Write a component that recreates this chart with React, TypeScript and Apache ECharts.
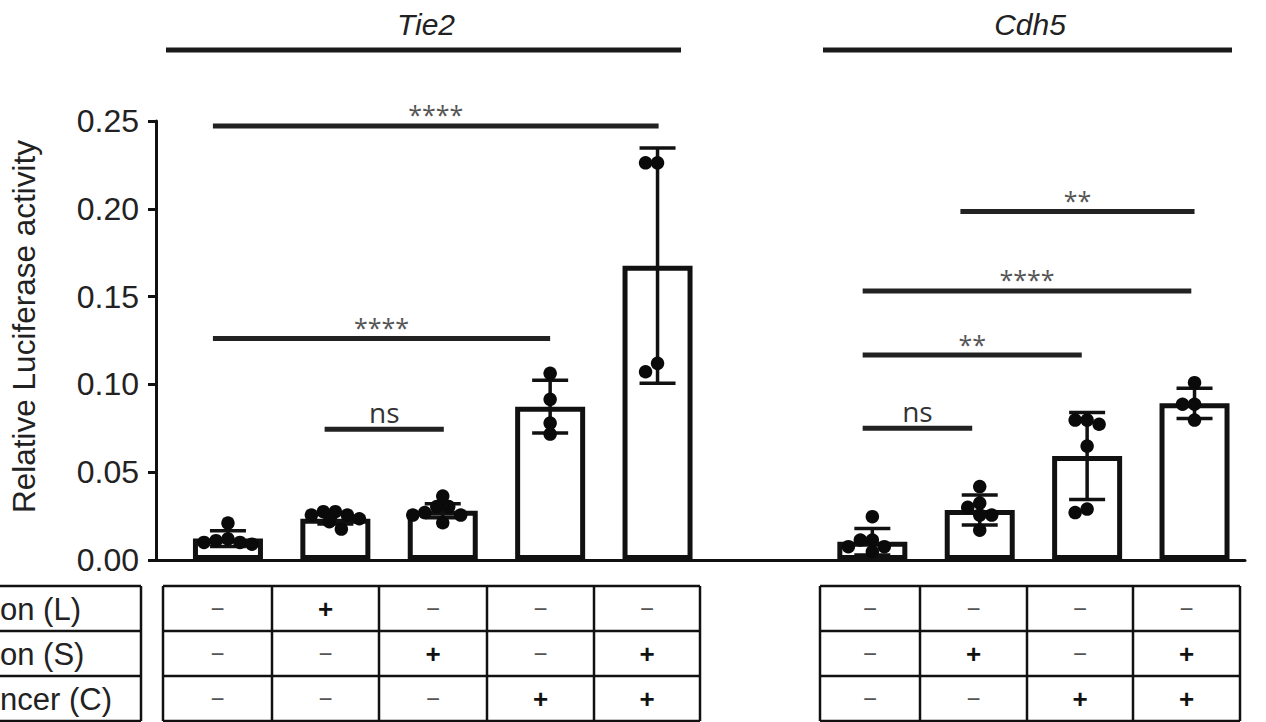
import React, { useEffect, useRef } from "react";
import * as echarts from "echarts";

// ---------- data ----------
const yName = "Relative Luciferase activity";
const genes = ["Tie2", "Cdh5"];
const tie2Slots = [1, 2, 3, 4, 5];
const cdh5Slots = [7, 8, 9, 10];

const tie2Means = [0.0122, 0.0235, 0.028, 0.0873, 0.1676];
const tie2Sd = [0.0045, 0.003, 0.004, 0.015, 0.067];
const cdh5Means = [0.0104, 0.0285, 0.0592, 0.0892];
const cdh5Sd = [0.0076, 0.0085, 0.0248, 0.0086];

const tie2Dots = [
  [0.021, 0.012, 0.011, 0.01, 0.01, 0.009],
  [0.0275, 0.0275, 0.0256, 0.0256, 0.0235, 0.0218, 0.0176],
  [0.0364, 0.0304, 0.0304, 0.027, 0.0256, 0.0256, 0.0212],
  [0.1063, 0.0915, 0.078, 0.0717],
  [0.2262, 0.2262, 0.112, 0.1072],
];
const cdh5Dots = [
  [0.0247, 0.0114, 0.0114, 0.0076, 0.0076, 0.0047],
  [0.0418, 0.0324, 0.03, 0.0256, 0.0256, 0.017],
  [0.0797, 0.0797, 0.0773, 0.0649, 0.029, 0.027],
  [0.101, 0.0887, 0.0887, 0.0797],
];

// significance brackets: [from slot, to slot, height]
const sigLines = [
  [0.86, 5.01, 0.2472],
  [0.86, 4.0, 0.1262],
  [1.9, 3.01, 0.0744],
  [7.82, 10.0, 0.1984],
  [6.91, 9.97, 0.1532],
  [6.91, 8.95, 0.1167],
  [6.91, 7.93, 0.075],
];
const sigLabels = ["****", "****", "ns", "**", "****", "**", "ns"];

const rowLabels = ["on (L)", "on (S)", "ncer (C)"];
const tie2Table = [
  ["−", "+", "−", "−", "−"],
  ["−", "−", "+", "−", "+"],
  ["−", "−", "−", "+", "+"],
];
const cdh5Table = [
  ["−", "−", "−", "−"],
  ["−", "+", "−", "+"],
  ["−", "−", "+", "+"],
];

// ---------- layout ----------
const W = 1266;
const H = 722;
const GL = 155, GR = 21, GT = 121, GB = 162;
const X_MIN = 0.33, X_MAX = 10.47;
const Y_MAX = 0.25;
const XPX = (W - GL - GR) / (X_MAX - X_MIN);
const YPX = (H - GT - GB) / Y_MAX;
const FONT = "Liberation Sans";

function swarm(values: number[], center: number) {
  const placed: { dx: number; dy: number }[] = [];
  const out: number[][] = [];
  const step = 6;
  const minD = 11;
  values.forEach((v) => {
    const py = v * YPX;
    let chosen = 0;
    for (let k = 0; k < 60; k++) {
      const off = k === 0 ? 0 : (k % 2 === 1 ? -1 : 1) * Math.ceil(k / 2) * step;
      if (placed.every((p) => Math.hypot(p.dx - off, p.dy - py) >= minD)) {
        chosen = off;
        break;
      }
    }
    placed.push({ dx: chosen, dy: py });
    out.push([center + chosen / XPX, v]);
  });
  return out;
}

function buildTable(left: number, cols: number[], rows: string[][]) {
  const ys = [586, 631, 676, 721];
  const els: any[] = [];
  const right = cols[cols.length - 1];
  ys.forEach((y) =>
    els.push({ type: "line", shape: { x1: left, y1: y, x2: right, y2: y }, style: { stroke: "#111", lineWidth: 2.5 } })
  );
  [left, ...cols].forEach((x) =>
    els.push({ type: "line", shape: { x1: x, y1: ys[0], x2: x, y2: ys[3] }, style: { stroke: "#111", lineWidth: 2.5 } })
  );
  const bounds = [left, ...cols];
  rows.forEach((row, r) => {
    row.forEach((s, c) => {
      els.push({
        type: "text",
        x: (bounds[c] + bounds[c + 1]) / 2,
        y: (ys[r] + ys[r + 1]) / 2,
        style: {
          text: s,
          fontSize: s === "+" ? 26 : 24,
          fontWeight: s === "+" ? "bold" : "normal",
          fontFamily: FONT,
          fill: s === "+" ? "#111" : "#555",
          align: "center",
          verticalAlign: "middle",
        },
      });
    });
  });
  return els;
}

export default function App() {
  const ref = useRef<HTMLDivElement>(null);
  useEffect(() => {
    if (!ref.current) return;
    const chart = echarts.init(ref.current, null, { renderer: "svg" });

    const barData = [
      ...tie2Slots.map((x, i) => [x, tie2Means[i]]),
      ...cdh5Slots.map((x, i) => [x, cdh5Means[i]]),
    ];
    const errData = [
      ...tie2Slots.map((x, i) => [x, tie2Means[i], tie2Sd[i]]),
      ...cdh5Slots.map((x, i) => [x, cdh5Means[i], cdh5Sd[i]]),
    ];
    const dotData: number[][] = [];
    tie2Dots.forEach((vals, i) => dotData.push(...swarm(vals, tie2Slots[i])));
    cdh5Dots.forEach((vals, i) => dotData.push(...swarm(vals, cdh5Slots[i])));

    const graphics: any[] = [];
    const headerSpec = [
      { text: genes[0], cx: 426, x1: 166, x2: 681 },
      { text: genes[1], cx: 1030, x1: 823, x2: 1232 },
    ];
    headerSpec.forEach((h) => {
      graphics.push({
        type: "text",
        x: h.cx,
        y: 24,
        style: { text: h.text, fontSize: 30, fontStyle: "italic", fontFamily: FONT, fill: "#222", align: "center", verticalAlign: "middle" },
      });
      graphics.push({ type: "line", shape: { x1: h.x1, y1: 50, x2: h.x2, y2: 50 }, style: { stroke: "#1a1a1a", lineWidth: 5 } });
    });
    [586, 631, 676, 721].forEach((y) =>
      graphics.push({ type: "line", shape: { x1: 0, y1: y, x2: 141, y2: y }, style: { stroke: "#111", lineWidth: 2.5 } })
    );
    graphics.push({ type: "line", shape: { x1: 141, y1: 586, x2: 141, y2: 721 }, style: { stroke: "#111", lineWidth: 2.5 } });
    rowLabels.forEach((t, r) =>
      graphics.push({
        type: "text",
        x: 0,
        y: 609 + r * 45,
        style: { text: t, fontSize: 31, fontFamily: FONT, fill: "#222", align: "left", verticalAlign: "middle" },
      })
    );
    graphics.push(...buildTable(163, [272, 379, 487, 594, 700], tie2Table));
    graphics.push(...buildTable(820, [920, 1027, 1133, 1240], cdh5Table));

    chart.setOption({
      animation: false,
      grid: { left: GL, right: GR, top: GT, bottom: GB, containLabel: false },
      xAxis: {
        type: "value",
        min: X_MIN,
        max: X_MAX,
        axisLine: { show: true, lineStyle: { color: "#111", width: 3 } },
        axisTick: { show: false },
        axisLabel: { show: false },
        splitLine: { show: false },
      },
      yAxis: {
        type: "value",
        min: 0,
        max: Y_MAX,
        interval: 0.05,
        name: yName,
        nameLocation: "middle",
        nameGap: 116,
        nameTextStyle: { fontFamily: FONT, fontSize: 31.5, color: "#222", padding: [0, 0, 0, 28] },
        axisLine: { show: true, lineStyle: { color: "#111", width: 3 } },
        axisTick: { show: true, length: 8, lineStyle: { color: "#111", width: 3 } },
        axisLabel: {
          formatter: (v: number) => v.toFixed(2),
          fontSize: 32,
          fontFamily: FONT,
          color: "#222",
          margin: 17,
        },
        splitLine: { show: false },
      },
      graphic: graphics,
      series: [
        {
          type: "bar",
          data: barData,
          barWidth: 70,
          itemStyle: { color: "#fff", borderColor: "#111", borderWidth: 5 },
          z: 2,
        },
        {
          type: "custom",
          data: errData,
          z: 3,
          renderItem: (params: any, api: any) => {
            const x = api.value(0);
            const m = api.value(1);
            const s = api.value(2);
            const top = api.coord([x, m + s]);
            const bot = api.coord([x, Math.max(0, m - s)]);
            const hw = 18;
            const st = { stroke: "#111", lineWidth: 3.5 };
            return {
              type: "group",
              children: [
                { type: "line", shape: { x1: top[0], y1: top[1], x2: bot[0], y2: bot[1] }, style: st },
                { type: "line", shape: { x1: top[0] - hw, y1: top[1], x2: top[0] + hw, y2: top[1] }, style: st },
                { type: "line", shape: { x1: bot[0] - hw, y1: bot[1], x2: bot[0] + hw, y2: bot[1] }, style: st },
              ],
            };
          },
        },
        {
          type: "scatter",
          data: dotData,
          symbolSize: 13.5,
          itemStyle: { color: "#0a0a0a", opacity: 1 },
          z: 4,
        },
        {
          type: "custom",
          data: sigLines,
          z: 5,
          renderItem: (params: any, api: any) => {
            const p1 = api.coord([api.value(0), api.value(2)]);
            const p2 = api.coord([api.value(1), api.value(2)]);
            const label = sigLabels[params.dataIndex];
            const isNs = label === "ns";
            return {
              type: "group",
              children: [
                { type: "line", shape: { x1: p1[0], y1: p1[1], x2: p2[0], y2: p1[1] }, style: { stroke: "#222", lineWidth: 5 } },
                {
                  type: "text",
                  x: (p1[0] + p2[0]) / 2,
                  y: isNs ? p1[1] - 3 : p1[1] + 1,
                  style: {
                    text: label,
                    fontSize: isNs ? 28 : 25,
                    fontFamily: "Open Sans",
                    fill: isNs ? "#333" : "#555",
                    align: "center",
                    verticalAlign: "bottom",
                  },
                },
              ],
            };
          },
        },
      ],
    });
    return () => chart.dispose();
  }, []);
  return <div ref={ref} style={{ position: "fixed", left: 0, top: 0, width: W, height: H, background: "#fff" }} />;
}
